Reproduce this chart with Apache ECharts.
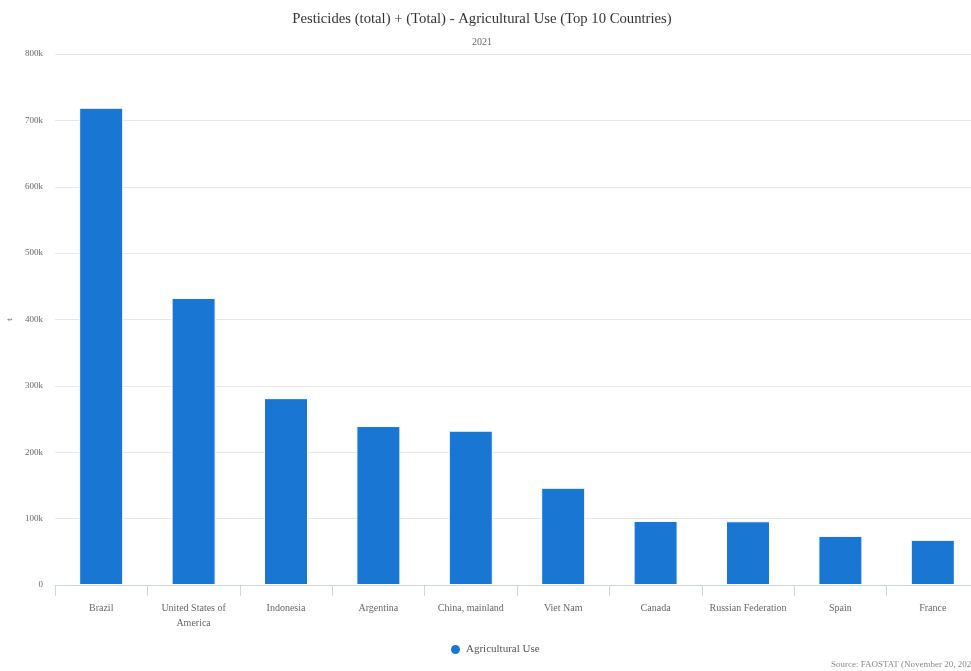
<!DOCTYPE html>
<html><head><meta charset="utf-8">
<script src="https://cdn.jsdelivr.net/npm/echarts@6/dist/echarts.min.js"></script>
<style>html,body{margin:0;padding:0;background:#fff}#c{width:971px;height:671px}</style>
</head><body><div id="c"></div>
<script>
const categories = ["Brazil","United States of America","Indonesia","Argentina","China, mainland","Viet Nam","Canada","Russian Federation","Spain","France"];
const values = [719000, 432500, 281500, 239500, 232500, 146500, 96500, 96000, 74000, 68000];
const seriesName = "Agricultural Use";
const yTicks = [0, 100000, 200000, 300000, 400000, 500000, 600000, 700000, 800000];

const FF = '"Liberation Serif", "DejaVu Serif", serif';
const chart = echarts.init(document.getElementById('c'));
chart.setOption({
  animation: false,
  textStyle: {fontFamily: FF},
  title: [
    {text: 'Pesticides (total) + (Total) - Agricultural Use (Top 10 Countries)', left: 477, top: 7, textAlign: 'center',
     textStyle: {fontFamily: FF, fontSize: 14.7, fontWeight: 'normal', color: '#333'}},
    {text: '2021', left: 477, top: 32, textAlign: 'center',
     textStyle: {fontFamily: FF, fontSize: 10, fontWeight: 'normal', color: '#666'}}
  ],
  legend: {data: [seriesName], left: 444, top: 638, icon: 'circle', itemWidth: 11, itemHeight: 11, itemGap: 8,
    textStyle: {fontFamily: FF, fontSize: 11, color: '#555'}},
  grid: {left: 55, top: 54, width: 924, height: 531, containLabel: false, outerBoundsMode: 'none'},
  xAxis: {type: 'category', data: categories,
    axisLine: {lineStyle: {color: '#ccd6eb'}},
    axisTick: {show: true, length: 11, lineStyle: {color: '#ccd6eb'}},
    axisLabel: {fontFamily: FF, fontSize: 10, color: '#666', margin: 16, interval: 0, lineHeight: 15,
      formatter: v => v === 'United States of America' ? 'United States of\nAmerica' : v}},
  yAxis: {type: 'value', min: yTicks[0], max: yTicks[yTicks.length-1], interval: 100000,
    name: 't', nameLocation: 'middle', nameGap: 38, nameRotate: 90,
    nameTextStyle: {fontFamily: FF, fontSize: 9, color: '#666'},
    axisLabel: {fontFamily: FF, fontSize: 9, color: '#666', margin: 12,
      formatter: v => v === 0 ? '0' : (v/1000) + 'k'},
    splitLine: {lineStyle: {color: '#e6e6e6'}}},
  series: [{name: seriesName, type: 'bar', data: values, barWidth: 44,
    itemStyle: {color: '#1976d2', borderColor: '#ffffff', borderWidth: 1}}],
  graphic: [{type: 'text', left: 831, top: 660,
    style: {text: 'Source: FAOSTAT (November 20, 2023)', fontFamily: FF, fontSize: 9, fill: '#888'}}]
});
</script></body></html>
